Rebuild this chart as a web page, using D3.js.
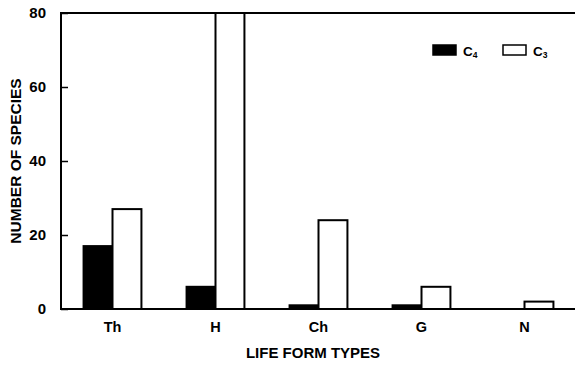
<!DOCTYPE html>
<html>
<head>
<meta charset="utf-8">
<script src="https://cdn.jsdelivr.net/npm/d3@7"></script>
<style>
  body { margin: 0; background: #fff; }
  svg text { font-family: "Liberation Sans", Arial, sans-serif; fill: #000; }
</style>
</head>
<body>
<svg id="chart" width="575" height="365"></svg>
<script>
// life form types and species counts per photosynthetic pathway
const lifeForms = ["Th", "H", "Ch", "G", "N"];
const pathways = ["C4", "C3"];
const c4Counts = [17, 6, 1, 1, 0];
const c3Counts = [27, 80, 24, 6, 2];
const yTicks = [0, 20, 40, 60, 80];

const width = 575;
const height = 365;
const margin = { top: 13, right: 0, bottom: 56, left: 61 };

const svg = d3.select("#chart");

const rows = lifeForms.map(function (d, i) {
  return { form: d, C4: c4Counts[i], C3: c3Counts[i] };
});

const x0 = d3.scaleBand()
  .domain(lifeForms)
  .range([margin.left, width + 1])
  .padding(0);

const x1 = d3.scaleBand()
  .domain(pathways)
  .range([0, x0.bandwidth()])
  .paddingInner(0)
  .paddingOuter(0.78);

const y = d3.scaleLinear()
  .domain([0, 80])
  .range([height - margin.bottom, margin.top]);

const fills = { C4: "#000", C3: "#fff" };

// bars
const groups = svg.append("g")
  .selectAll("g")
  .data(rows)
  .enter()
  .append("g")
  .attr("transform", function (d) { return "translate(" + x0(d.form) + ",0)"; });

groups.selectAll("rect")
  .data(function (d) {
    return pathways.map(function (p) { return { key: p, value: d[p] }; });
  })
  .enter()
  .append("rect")
  .filter(function (d) { return d.value > 0; })
  .attr("x", function (d) { return x1(d.key); })
  .attr("y", function (d) { return y(d.value); })
  .attr("width", x1.bandwidth())
  .attr("height", function (d) { return y(0) - y(d.value); })
  .attr("fill", function (d) { return fills[d.key]; })
  .attr("stroke", "#000")
  .attr("stroke-width", 2);

// frame: top line
svg.append("line")
  .attr("x1", margin.left).attr("x2", width)
  .attr("y1", y(80)).attr("y2", y(80))
  .attr("stroke", "#000").attr("stroke-width", 2);

// y axis with inward ticks
const yAxis = svg.append("g")
  .attr("transform", "translate(" + margin.left + ",0)")
  .call(d3.axisRight(y).tickValues(yTicks).tickSize(7).tickFormat(d3.format("d")));
yAxis.select(".domain").remove();
yAxis.selectAll(".tick line").attr("stroke", "#000").attr("stroke-width", 1.5);
yAxis.selectAll(".tick text")
  .attr("x", -15)
  .attr("text-anchor", "end")
  .attr("font-size", 15)
  .attr("font-weight", "bold");
yAxis.append("line")
  .attr("x1", 0).attr("x2", 0)
  .attr("y1", y(80) - 1).attr("y2", y(0) + 1)
  .attr("stroke", "#000").attr("stroke-width", 2);

// x axis
const xAxis = svg.append("g")
  .attr("transform", "translate(0," + y(0) + ")")
  .call(d3.axisBottom(x0).tickSize(0).tickPadding(13));
xAxis.select(".domain").remove();
xAxis.selectAll(".tick text")
  .attr("font-size", 14.5)
  .attr("font-weight", "bold");
xAxis.append("line")
  .attr("x1", margin.left).attr("x2", width)
  .attr("y1", 0).attr("y2", 0)
  .attr("stroke", "#000").attr("stroke-width", 2);

// axis titles
svg.append("text")
  .attr("x", 313)
  .attr("y", 358)
  .attr("text-anchor", "middle")
  .attr("font-size", 15)
  .attr("font-weight", "bold")
  .text("LIFE FORM TYPES");

svg.append("text")
  .attr("transform", "translate(21,161) rotate(-90)")
  .attr("text-anchor", "middle")
  .attr("font-size", 15.5)
  .attr("font-weight", "bold")
  .text("NUMBER OF SPECIES");

// legend
const legend = svg.append("g").attr("transform", "translate(433,45)");
const legendItems = [
  { key: "C4", label: "C", sub: "4", dx: 0 },
  { key: "C3", label: "C", sub: "3", dx: 70 }
];
const li = legend.selectAll("g")
  .data(legendItems)
  .enter()
  .append("g")
  .attr("transform", function (d) { return "translate(" + d.dx + ",0)"; });
li.append("rect")
  .attr("width", 23).attr("height", 10)
  .attr("fill", function (d) { return fills[d.key]; })
  .attr("stroke", "#000").attr("stroke-width", 1.5);
const lt = li.append("text")
  .attr("x", 30).attr("y", 10.5)
  .attr("font-size", 13.5)
  .attr("font-weight", "bold");
lt.append("tspan").text(function (d) { return d.label; });
lt.append("tspan")
  .attr("font-size", 8.5)
  .attr("dy", 2)
  .text(function (d) { return d.sub; });
</script>
</body>
</html>
